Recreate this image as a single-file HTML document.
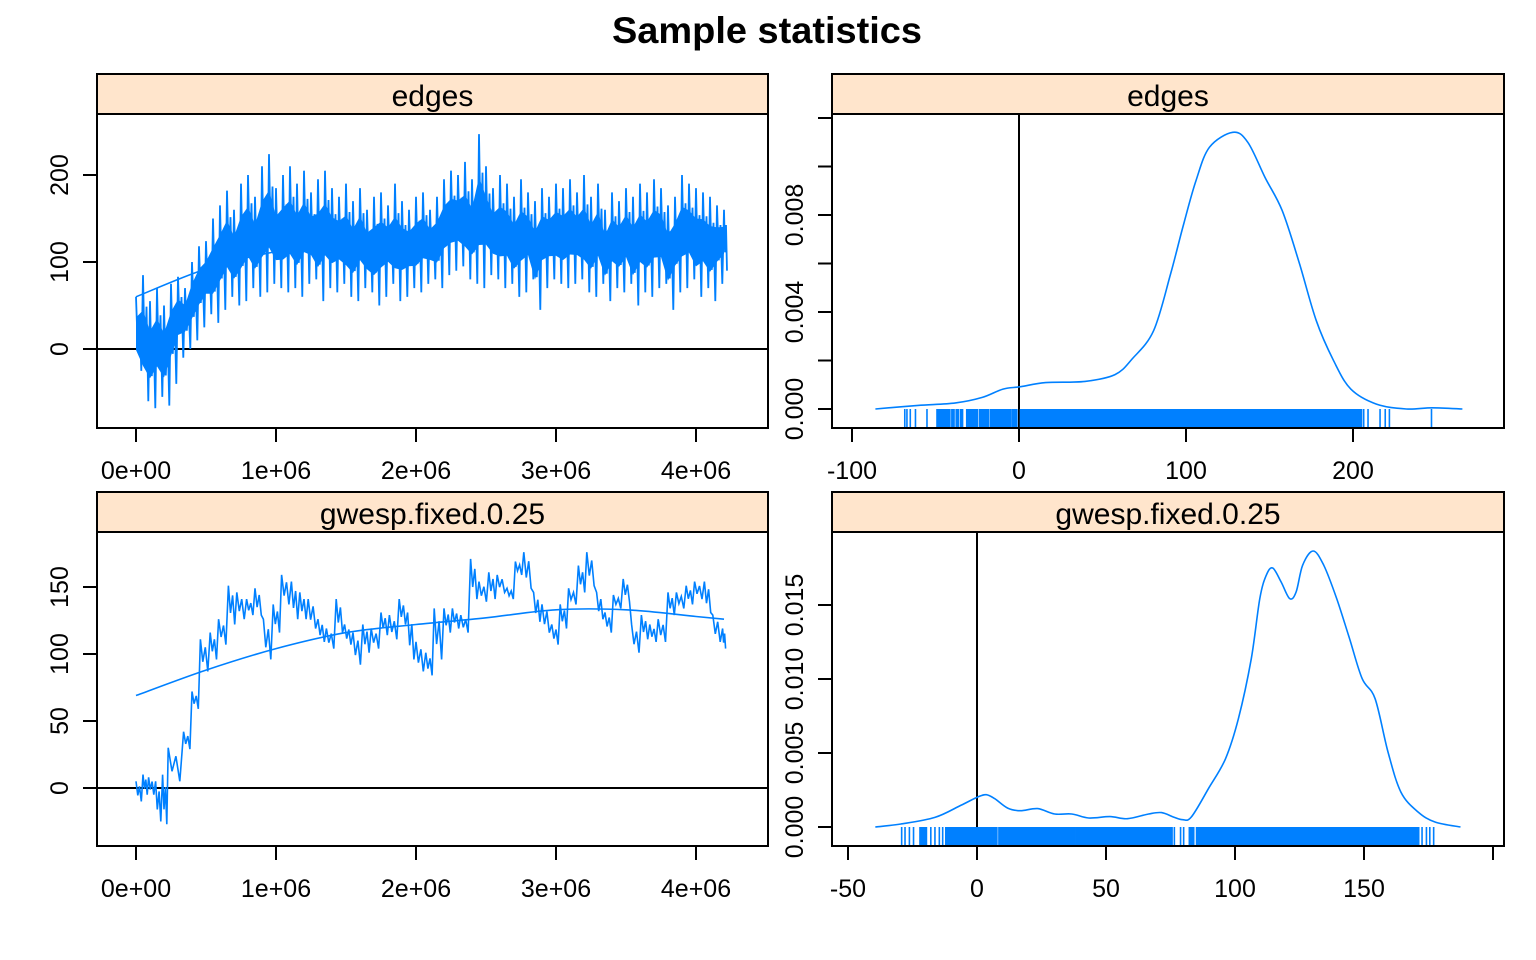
<!DOCTYPE html>
<html><head><meta charset="utf-8"><style>
html,body{margin:0;padding:0;background:#fff;}
svg{display:block;font-family:"Liberation Sans",Arial,sans-serif;}
</style></head><body>
<svg id="chart" width="1536" height="960" viewBox="0 0 1536 960" xmlns="http://www.w3.org/2000/svg">
<rect width="1536" height="960" fill="#fff"/>
<text x="767" y="43" text-anchor="middle" font-size="37" font-weight="bold" textLength="310" lengthAdjust="spacingAndGlyphs">Sample statistics</text>
<g id="layer"></g>
</svg>
<script>
// ---- edges trace: per-50k-iteration bin high/low ----
const edgesHi = [60,85,55,70,50,75,83,70,100,118,124,150,165,182,160,190,200,175,210,224,185,200,210,190,205,180,195,205,185,175,190,170,185,160,175,180,165,190,170,160,175,180,160,175,195,205,200,215,195,247,210,185,200,190,175,195,180,170,185,175,190,185,195,180,200,175,190,160,180,170,185,175,190,180,195,185,165,175,200,190,185,180,175,165,160];
const edgesLo = [-25,-60,-68,-55,-65,-40,-10,0,10,25,40,30,45,60,50,55,70,60,65,75,70,65,70,60,75,80,55,70,65,75,60,55,70,65,50,60,75,55,60,70,65,75,80,70,85,90,95,80,75,70,85,80,70,75,60,65,80,45,70,80,75,70,75,80,65,60,75,55,70,65,75,50,65,60,70,75,45,65,70,80,60,70,55,75,90];
const smoothIter = [0,0.5,1.0,1.5,2.0,2.5,3.0,3.5,4.0,4.2];
const edgesSmooth = [60,92,112,122,125,130,135,135,134,133];
// ---- gwesp trace ----
const gwIter = [0.00,0.05,0.09,0.14,0.19,0.23,0.34,0.40,0.46,0.53,0.59,0.66,0.72,0.79,0.85,0.91,0.98,1.04,1.11,1.17,1.23,1.30,1.36,1.43,1.49,1.55,1.62,1.68,1.75,1.81,1.88,1.94,2.00,2.07,2.13,2.20,2.26,2.32,2.39,2.45,2.52,2.58,2.65,2.71,2.77,2.84,2.90,2.97,3.03,3.09,3.16,3.22,3.29,3.35,3.41,3.48,3.54,3.61,3.67,3.73,3.80,3.86,3.93,3.99,4.06,4.12,4.19];
const gwHi = [5,10,8,5,10,30,42,72,111,116,126,151,146,141,149,126,137,159,154,146,141,126,119,141,122,116,122,119,131,129,141,131,109,101,134,134,134,129,171,154,161,159,149,169,176,146,137,122,137,149,166,176,146,131,144,156,122,129,122,126,146,146,151,154,154,129,119];
const gwLo = [-10,-5,-5,-25,-27,5,29,59,87,96,107,122,126,129,129,96,116,137,126,126,119,109,104,116,107,92,101,104,114,111,122,96,87,84,96,116,119,116,141,139,141,146,141,159,149,124,116,107,119,137,146,151,126,116,134,139,101,111,109,109,129,134,137,141,131,109,104];
const gwSmooth = [69,88,104,116,122,127,133,133,128,126];
// ---- edges density ----
const edX = [-86,-60.5,-38,-22,-9.6,1,16,39.5,57.5,67.7,80.6,90.8,98.6,106,114,128,137,147.3,157.6,168,178,188.4,198.7,214,232,247.5,265.5];
const edY = [0,0.00015,0.00025,0.00048,0.00082,0.00092,0.00109,0.00114,0.00142,0.00206,0.00323,0.00557,0.00763,0.00942,0.01079,0.01141,0.0110,0.00955,0.00818,0.00598,0.00364,0.00199,0.00082,0.0002,0,0.00005,0];
const edRugStart = [-68.4,-67.1,-65.1,-62,-55.1,-49.1,-44,-40.2,-37.6,-35.1,-31.3,-23.6,-17.2,-3.9,0.9,206.4,209,216.2,219.3,221.8,247];
const edRugEnd   = [-68.4,-67.1,-65.1,-62,-55.1,-44.7,-41.4,-38.9,-36.4,-33.8,-24.9,-18.4,-4.9,-1.3,205.1,206.4,209,216.2,219.3,221.8,247];
// ---- gwesp density ----
const gdX = [-39.4,-29.5,-16.3,-6.3,0.3,3.6,6.9,11.9,16.8,23.5,30.1,36.7,43.3,51.6,58.3,66.5,71.5,76.5,79.8,83.1,89.7,96.3,101.3,106.3,109.6,112.1,114.6,117.9,121.2,123.7,126.2,130.3,134.4,139.4,144.4,149.3,154.3,159.3,164.3,171,177.5,187.4];
const gdY = [0,0.0002,0.00065,0.00146,0.00203,0.00218,0.00191,0.00128,0.0011,0.00124,0.00088,0.00088,0.00061,0.0007,0.00056,0.00088,0.00097,0.00065,0.00049,0.00068,0.00259,0.00461,0.00732,0.01137,0.01543,0.017,0.0175,0.01655,0.01543,0.01588,0.01768,0.01865,0.01768,0.01543,0.01272,0.01002,0.00867,0.00507,0.00236,0.00101,0.00034,0];
const gdRugStart = [-29.2,-27.9,-26.2,-24.6,-22.1,-17.9,-16.3,-14.6,-13.3,-12.1,8.5,11.5,14,16.5,28,38.5,41.3,44,47.5,57,59,61.7,64,66.5,69,76.5,78.9,80.1,82.3,85.1,172.5,174.2,175.5,177];
const gdRugEnd   = [-29.2,-27.9,-26.2,-24.6,-19.6,-17.9,-16.3,-14.6,-13.3,7.7,11,13.5,16,27.6,38,40.8,43.7,47,56.6,58.6,61.2,63.6,66,68.5,75.6,76.5,78.9,80.1,84,171.2,172.5,174.2,175.5,177];
// ---- tick labels ----
const iterTicks = [0,1,2,3,4];
const iterTickLabels = ["0e+00","1e+06","2e+06","3e+06","4e+06"];
const edgesYTicks = [0,100,200];
const gwYTicks = [0,50,100,150];
const edDensXTicks = [-100,0,100,200];
const edDensYTicks = [0,0.002,0.004,0.006,0.008,0.010,0.012];
const edDensYLabels = ["0.000","","0.004","","0.008","",""];
const gdDensXTicks = [-50,0,50,100,150,200];
const gdDensXLabels = ["-50","0","50","100","150",""];
const gdDensYTicks = [0,0.005,0.010,0.015];
const gdDensYLabels = ["0.000","0.005","0.010","0.015"];

const NS = "http://www.w3.org/2000/svg";
const layer = document.getElementById('layer');
const BLUE = "#0080ff";
function mk(tag, attrs, parent){const e=document.createElementNS(NS,tag);for(const k in attrs)e.setAttribute(k,attrs[k]);(parent||layer).appendChild(e);return e;}
function lin(d0,d1,p0,p1){return v=>p0+(v-d0)*(p1-p0)/(d1-d0);}

function panel(name, x0, y0, x1, y1, title){
  const g = mk('g',{});
  
  
  const s = mk('rect',{x:x0,y:y0,width:x1-x0,height:40,fill:"#ffe5cc",stroke:"#000","stroke-width":2},g);
  
  
  const t = mk('text',{x:(x0+x1)/2,y:y0+32,"text-anchor":"middle","font-size":30},g);
  t.textContent = title;
  
  
  const b = mk('rect',{x:x0,y:y0+40,width:x1-x0,height:y1-y0-40,fill:"none",stroke:"#000","stroke-width":2},g);
  
  
  return g;
}
function xAxis(g,name,xs,ticks,labels,yb){
  ticks.forEach((v,i)=>{
    const l=mk('line',{x1:xs(v),x2:xs(v),y1:yb,y2:yb+14,stroke:"#000","stroke-width":2},g);
    
    
    if(labels[i]!==""){
      const t=mk('text',{x:xs(v),y:yb+51,"text-anchor":"middle","font-size":25},g);
      t.textContent=labels[i];
      
      
    }
  });
}
function yAxis(g,name,ys,ticks,labels,xl,lx){
  ticks.forEach((v,i)=>{
    const l=mk('line',{x1:xl-14,x2:xl,y1:ys(v),y2:ys(v),stroke:"#000","stroke-width":2},g);
    
    
    if(labels[i]!==""){
      const t=mk('text',{x:lx,y:ys(v),"text-anchor":"middle","font-size":25,transform:`rotate(-90 ${lx} ${ys(v)})`},g);
      t.textContent=labels[i];
      
      
    }
  });
}
function zig(xsArr,hi,lo,xs,ys){
  let d="";
  for(let i=0;i<hi.length;i++){
    const xa=xs(xsArr[i]);
    const xb=i<hi.length-1?xs(xsArr[i+1]):xa+4;
    const w=xb-xa, r=hi[i]-lo[i];
    const pts=[[xa,hi[i]],[xa+w*0.25,lo[i]+r*0.3],[xa+w*0.5,hi[i]-r*0.25],[xa+w*0.75,lo[i]]];
    pts.forEach((p,j)=>{d+=((i||j)?"L":"M")+p[0].toFixed(1)+","+ys(p[1]).toFixed(1);});
  }
  return d;
}
// solid core band between inner quantiles of each bin
function core(xsArr,hi,lo,xs,ys,f){
  const top=[],bot=[];
  for(let i=0;i<hi.length;i++){
    const r=hi[i]-lo[i];
    top.push(xs(xsArr[i]).toFixed(1)+","+ys(hi[i]-r*f).toFixed(1));
    bot.unshift(xs(xsArr[i]).toFixed(1)+","+ys(lo[i]+r*f).toFixed(1));
  }
  return "M"+top.join("L")+"L"+bot.join("L")+"Z";
}
function smoothPath(xa,ya,xs,ys){
  const P=xa.map((v,i)=>[xs(v),ys(ya[i])]);
  let d="M"+P[0][0].toFixed(1)+","+P[0][1].toFixed(1);
  for(let i=0;i<P.length-1;i++){
    const p0=P[Math.max(0,i-1)],p1=P[i],p2=P[i+1],p3=P[Math.min(P.length-1,i+2)];
    const c1=[p1[0]+(p2[0]-p0[0])/6,p1[1]+(p2[1]-p0[1])/6];
    const c2=[p2[0]-(p3[0]-p1[0])/6,p2[1]-(p3[1]-p1[1])/6];
    d+="C"+c1[0].toFixed(1)+","+c1[1].toFixed(1)+" "+c2[0].toFixed(1)+","+c2[1].toFixed(1)+" "+p2[0].toFixed(1)+","+p2[1].toFixed(1);
  }
  return d;
}

// ===== Top-left: edges trace =====
{
  const g=panel('edges-trace',97,74,768,428,'edges');
  const xs=lin(0,1,136,276), ys=lin(0,100,349,262);
  mk('line',{x1:98,x2:767,y1:ys(0),y2:ys(0),stroke:"#000","stroke-width":2},g);
  const edgesIter = edgesHi.map((_,i)=>i*0.05);
  const c=mk('path',{d:core(edgesIter,edgesHi,edgesLo,xs,ys,0.28),fill:BLUE,stroke:"none"},g);
  
  
  const p=mk('path',{d:zig(edgesIter,edgesHi,edgesLo,xs,ys),fill:"none",stroke:BLUE,"stroke-width":1.8},g);
  
  
  const sm=mk('path',{d:smoothPath(smoothIter,edgesSmooth,xs,ys),fill:"none",stroke:BLUE,"stroke-width":1.6},g);
  
  
  xAxis(g,'edges-trace',xs,iterTicks,iterTickLabels,428);
  yAxis(g,'edges-trace',ys,edgesYTicks,edgesYTicks.map(String),97,68);
}
// ===== Bottom-left: gwesp trace =====
{
  const g=panel('gwesp-trace',97,492,768,846,'gwesp.fixed.0.25');
  const xs=lin(0,1,136,276), ys=lin(0,100,788,654);
  mk('line',{x1:98,x2:767,y1:ys(0),y2:ys(0),stroke:"#000","stroke-width":2},g);
  const p=mk('path',{d:zig(gwIter,gwHi,gwLo,xs,ys),fill:"none",stroke:BLUE,"stroke-width":1.6},g);
  
  
  const sm=mk('path',{d:smoothPath(smoothIter,gwSmooth,xs,ys),fill:"none",stroke:BLUE,"stroke-width":1.6},g);
  
  
  xAxis(g,'gwesp-trace',xs,iterTicks,iterTickLabels,846);
  yAxis(g,'gwesp-trace',ys,gwYTicks,gwYTicks.map(String),97,68);
}
// ===== Top-right: edges density =====
{
  const g=panel('edges-density',832,74,1504,428,'edges');
  const xs=lin(0,100,1019,1186), ys=lin(0,0.004,409,312);
  const vl=mk('line',{x1:xs(0),x2:xs(0),y1:115,y2:427,stroke:"#000","stroke-width":2},g);
  
  
  edRugStart.forEach((a,i)=>{
    const b=edRugEnd[i];
    const r=mk('rect',{x:xs(a)-0.8,y:409,width:Math.max(1.6,xs(b)-xs(a)+1.6),height:18,fill:BLUE},g);
    
    
  });
  const p=mk('path',{d:smoothPath(edX,edY,xs,ys),fill:"none",stroke:BLUE,"stroke-width":1.6},g);
  
  
  xAxis(g,'edges-density',xs,edDensXTicks,edDensXTicks.map(String),428);
  yAxis(g,'edges-density',ys,edDensYTicks,edDensYLabels,832,803);
}
// ===== Bottom-right: gwesp density =====
{
  const g=panel('gwesp-density',832,492,1504,846,'gwesp.fixed.0.25');
  const xs=lin(0,50,977,1106), ys=lin(0,0.005,827,753);
  const vl=mk('line',{x1:xs(0),x2:xs(0),y1:533,y2:845,stroke:"#000","stroke-width":2},g);
  
  
  gdRugStart.forEach((a,i)=>{
    const b=gdRugEnd[i];
    const r=mk('rect',{x:xs(a)-0.8,y:827,width:Math.max(1.6,xs(b)-xs(a)+1.6),height:18,fill:BLUE},g);
    
    
  });
  const p=mk('path',{d:smoothPath(gdX,gdY,xs,ys),fill:"none",stroke:BLUE,"stroke-width":1.6},g);
  
  
  xAxis(g,'gwesp-density',xs,gdDensXTicks,gdDensXLabels,846);
  yAxis(g,'gwesp-density',ys,gdDensYTicks,gdDensYLabels,832,803);
}
</script>
</body></html>
